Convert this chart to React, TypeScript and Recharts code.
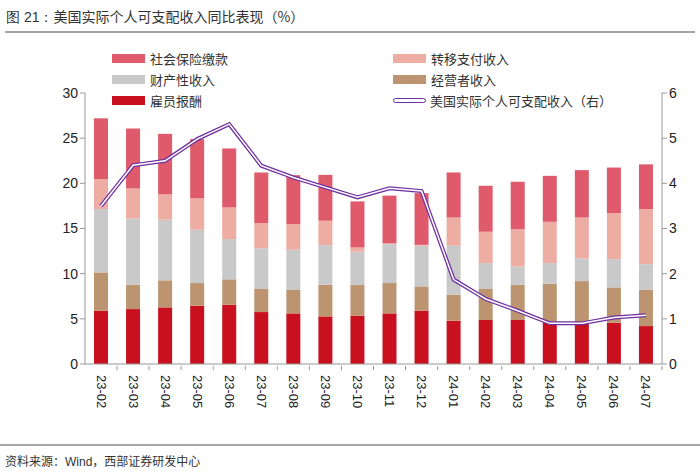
import React from 'react'
import { ComposedChart, Bar, Line, XAxis, YAxis } from 'recharts'

const months = ['23-02', '23-03', '23-04', '23-05', '23-06', '23-07', '23-08', '23-09', '23-10', '23-11', '23-12', '24-01', '24-02', '24-03', '24-04', '24-05', '24-06', '24-07']
const wages = [5.9, 6.08, 6.27, 6.45, 6.56, 5.75, 5.6, 5.27, 5.35, 5.6, 5.9, 4.79, 4.87, 4.87, 4.6, 4.6, 4.57, 4.2]
const business = [4.24, 2.7, 2.99, 2.51, 2.81, 2.55, 2.59, 3.51, 3.39, 3.36, 2.69, 2.88, 3.43, 3.91, 4.29, 4.58, 3.91, 4.0]
const property = [7.01, 7.33, 6.71, 5.9, 4.46, 4.49, 4.46, 4.38, 3.69, 4.31, 4.5, 5.42, 2.87, 2.02, 2.28, 2.51, 3.13, 2.85]
const transfer = [3.31, 3.32, 2.8, 3.47, 3.5, 2.81, 2.84, 2.7, 0.47, 0.1, 0.1, 3.13, 3.47, 4.13, 4.57, 4.53, 5.09, 6.1]
const social = [6.74, 6.64, 6.71, 6.56, 6.53, 5.6, 5.41, 5.08, 5.1, 5.27, 5.73, 4.98, 5.09, 5.24, 5.09, 5.24, 5.05, 4.95]
const realDpi = [3.5, 4.4, 4.5, 4.98, 5.31, 4.39, 4.13, 3.91, 3.69, 3.89, 3.83, 1.87, 1.44, 1.18, 0.9, 0.9, 1.03, 1.08]

const leftTicks = [0, 5, 10, 15, 20, 25, 30]
const rightTicks = [0, 1, 2, 3, 4, 5, 6]

const C = {
  social: '#DF5A6B',
  transfer: '#EDADA2',
  property: '#C9C9C9',
  business: '#BC9470',
  wages: '#C8101E',
  line: '#7030A0',
}

const data = months.map((m, i) => ({
  month: m,
  wages: wages[i],
  business: business[i],
  property: property[i],
  transfer: transfer[i],
  social: social[i],
  rdi: realDpi[i],
}))

const cjk = '"Noto Sans CJK SC", "Liberation Sans", sans-serif'
const latin = '"Liberation Sans", Arial, sans-serif'

// rotated month label + small upward tick at the right edge of each category
const XTick = (props: any) => {
  const { x, y, payload, visibleTicksCount, width } = props
  const band = width / (visibleTicksCount || months.length)
  const axisY = y - 4
  return (
    <g>
      <line x1={x + band / 2} x2={x + band / 2} y1={axisY} y2={axisY - 4} stroke="#999" />
      <text
        x={x}
        y={y + 1}
        transform={`rotate(90 ${x} ${y + 1})`}
        textAnchor="start"
        dominantBaseline="central"
        fontSize={13}
        fontFamily={latin}
        fill="#222"
      >
        {payload.value}
      </text>
    </g>
  )
}

const legendItems = [
  { label: '社会保险缴款', color: C.social, x: 112, y: 58 },
  { label: '转移支付收入', color: C.transfer, x: 393, y: 58 },
  { label: '财产性收入', color: C.property, x: 112, y: 79 },
  { label: '经营者收入', color: C.business, x: 393, y: 79 },
  { label: '雇员报酬', color: C.wages, x: 112, y: 100 },
]

export default function App() {
  return (
    <div style={{ position: 'absolute', left: 0, top: 0, width: 700, height: 472, background: '#fff', overflow: 'hidden' }}>
      <div style={{ position: 'absolute', left: 6, top: 6, fontSize: 14, color: '#333', fontFamily: cjk, whiteSpace: 'nowrap' }}>
        <span style={{ fontFamily: latin }}>图 21：</span>美国实际个人可支配收入同比表现（%）
      </div>
      <div style={{ position: 'absolute', left: 5, right: 5, top: 31, height: 2, background: '#A6A6A6' }} />

      {legendItems.map((it) => (
        <div key={it.label} style={{ position: 'absolute', left: it.x, top: it.y - 9, height: 18, display: 'flex', alignItems: 'center', fontFamily: cjk, fontSize: 13, color: '#333', whiteSpace: 'nowrap' }}>
          <div style={{ width: 33, height: 9, background: it.color, marginRight: 5 }} />
          {it.label}
        </div>
      ))}
      <div style={{ position: 'absolute', left: 393, top: 91, height: 18, display: 'flex', alignItems: 'center', fontFamily: cjk, fontSize: 13, color: '#333', whiteSpace: 'nowrap' }}>
        <div style={{ width: 31, height: 3, border: `1.5px solid ${C.line}`, borderRadius: 3, marginRight: 4, background: '#fff' }} />
        美国实际个人可支配收入（右）
      </div>

      <div style={{ position: 'absolute', left: 0, top: 0 }}>
        <ComposedChart width={700} height={472} data={data} margin={{ top: 93, right: 8, bottom: 48, left: 35 }} barSize={14}>
          <XAxis
            dataKey="month"
            interval={0}
            tick={<XTick />}
            tickLine={false}
            axisLine={{ stroke: '#999' }}
            height={60}
            tickMargin={4}
          />
          <YAxis
            yAxisId="left"
            domain={[0, 30]}
            ticks={leftTicks}
            width={50}
            axisLine={{ stroke: '#999' }}
            tickLine={{ stroke: '#999' }}
            tickSize={5}
            tick={{ fontSize: 14, fill: '#222', fontFamily: latin }}
          />
          <YAxis
            yAxisId="right"
            orientation="right"
            domain={[0, 6]}
            ticks={rightTicks}
            width={30}
            axisLine={{ stroke: '#999' }}
            tickLine={{ stroke: '#999' }}
            tickSize={5}
            tick={{ fontSize: 14, fill: '#222', fontFamily: latin }}
          />
          <Bar yAxisId="left" dataKey="wages" stackId="a" fill={C.wages} isAnimationActive={false} />
          <Bar yAxisId="left" dataKey="business" stackId="a" fill={C.business} isAnimationActive={false} />
          <Bar yAxisId="left" dataKey="property" stackId="a" fill={C.property} isAnimationActive={false} />
          <Bar yAxisId="left" dataKey="transfer" stackId="a" fill={C.transfer} isAnimationActive={false} />
          <Bar yAxisId="left" dataKey="social" stackId="a" fill={C.social} isAnimationActive={false} />
          <Line yAxisId="right" dataKey="rdi" type="linear" stroke={C.line} strokeWidth={4} dot={false} isAnimationActive={false} />
          <Line yAxisId="right" dataKey="rdi" type="linear" stroke="#fff" strokeWidth={1.5} dot={false} isAnimationActive={false} />
        </ComposedChart>
      </div>

      <div style={{ position: 'absolute', left: 0, right: 0, top: 444, height: 2, background: '#A6A6A6' }} />
      <div style={{ position: 'absolute', left: 5, top: 452, fontSize: 12, color: '#333', fontFamily: cjk, whiteSpace: 'nowrap' }}>
        资料来源：<span style={{ fontFamily: latin }}>Wind</span>，西部证券研发中心
      </div>
    </div>
  )
}
